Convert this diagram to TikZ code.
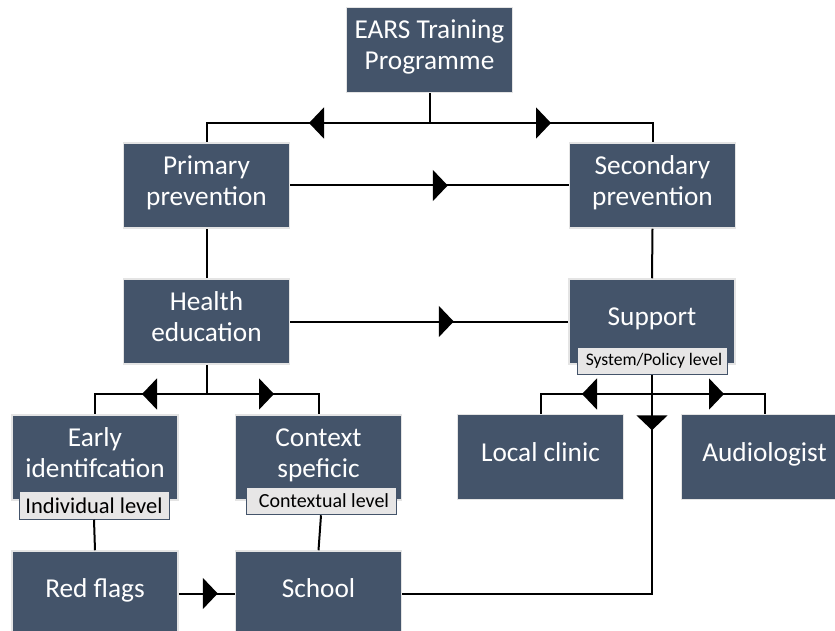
\documentclass[tikz,border=0pt]{standalone}
\usepackage{fontspec}
\setmainfont{Carlito}
\usetikzlibrary{arrows.meta,decorations.markings}
\definecolor{boxblue}{HTML}{44546A}
\definecolor{boxedge}{HTML}{E4E4E4}
\definecolor{lblfill}{HTML}{E7E6E6}
\newcommand{\boxtext}[1]{\raisebox{-4.2pt}[0pt][0pt]{\begin{tabular}{@{}c@{}}#1\end{tabular}}}
\tikzset{
  box/.style={rectangle, fill=boxblue, draw=boxedge, line width=1.5pt,
    minimum width=166pt, minimum height=85pt, inner sep=0pt,
    text=white, font=\fontsize{27.3}{31}\selectfont},
  lbl/.style={rectangle, fill=lblfill, draw=boxblue, line width=1pt,
    minimum width=150pt, minimum height=27.5pt, inner sep=0pt, text=black},
  conn/.style={draw=black, line width=2pt},
  tri/.tip={Triangle[length=15pt,width=31pt]},
  tipat/.style={postaction={decorate},
    decoration={markings, mark=at position #1 with {\arrow{tri}}}}
}
\begin{document}
\begin{tikzpicture}[x=1pt,y=1pt]
\useasboundingbox (0,0) rectangle (835,-631);
\clip (0,0) rectangle (835,-631);
% boxes
\node[box] (ears) at (429.5,-50) {\boxtext{EARS Training\\Programme}};
\node[box] (primary) at (206.5,-185.5) {\boxtext{Primary\\prevention}};
\node[box] (secondary) at (652.5,-185.5) {\boxtext{Secondary\\prevention}};
\node[box] (health) at (206.5,-321.5) {\boxtext{Health\\education}};
\node[box] (support) at (652,-321.5) {\boxtext{Support}};
\node[box] (early) at (95,-457.5) {\boxtext{Early\\identifcation}};
\node[box] (context) at (318.5,-457.5) {\boxtext{Context\\speficic}};
\node[box] (local) at (540.5,-457) {\boxtext{Local clinic}};
\node[box] (audio) at (764.5,-457) {\boxtext{Audiologist}};
\node[box] (red) at (95,-593.5) {\boxtext{Red flags}};
\node[box] (school) at (318.5,-593.5) {\boxtext{School}};
% level labels
\node[lbl, font=\fontsize{22.5}{26}\selectfont] (indiv) at (94,-505.5) {Individual level};
\node[lbl, font=\fontsize{20}{24}\selectfont] (contx) at (321,-501) {\hspace{6pt}Contextual level};
\node[lbl, font=\fontsize{17.6}{21}\selectfont] (syst) at (652,-361) {\hspace{4pt}System/Policy level};
% junctions
\coordinate (j0) at (429.5,-123);
\coordinate (j1) at (206.5,-394);
\coordinate (j2) at (652,-394);
% connectors
\draw[conn] (ears.south) -- (j0);
\draw[conn, tipat=120.5pt] (j0) -| (primary.north);
\draw[conn, tipat=121.5pt] (j0) -| (secondary.north);
\draw[conn, tipat=157.5pt] (primary.east) -- (secondary.west);
\draw[conn] (primary.south) -- (health.north);
\draw[conn] (secondary.south) -- (support.north);
\draw[conn, tipat=163.5pt] (health.east) -- (support.west);
\draw[conn] (health.south) -- (j1);
\draw[conn, tipat=64.5pt] (j1) -| (early.north);
\draw[conn, tipat=67.5pt] (j1) -| (context.north);
\draw[conn] (indiv.south) -- (red.north);
\draw[conn] (contx.south) -- (school.north);
\draw[conn, tipat=39pt] (red.east) -- (school.west);
\draw[conn, tipat=55pt] (syst.south) |- (school.east);
\draw[conn, tipat=70pt] (j2) -| (local.north);
\draw[conn, tipat=72pt] (j2) -| (audio.north);
\end{tikzpicture}
\end{document}
